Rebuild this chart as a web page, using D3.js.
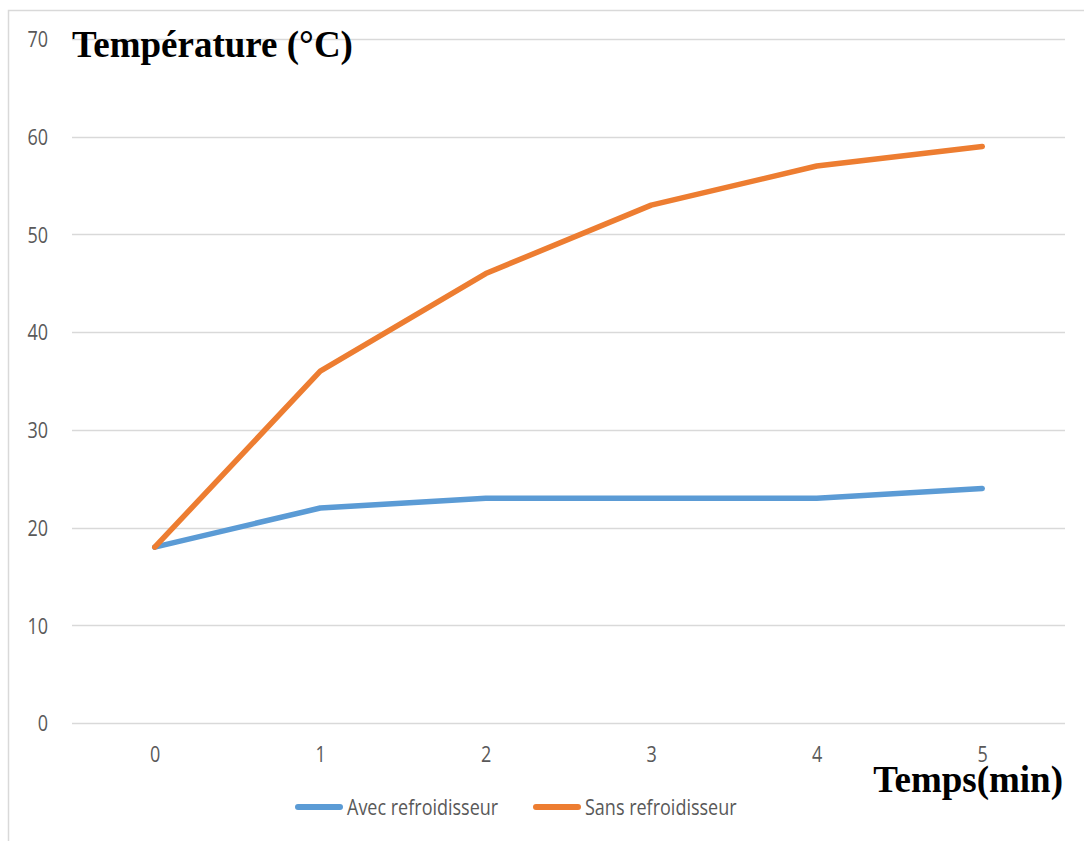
<!DOCTYPE html>
<html>
<head>
<meta charset="utf-8">
<script src="https://cdn.jsdelivr.net/npm/d3@7"></script>
<style>
  body { margin: 0; background: #fff; }
  svg { display: block; }
</style>
</head>
<body>
<div id="plot"></div>
<script>
// data
var temps = [0, 1, 2, 3, 4, 5];
var avecRefroidisseur = [18, 22, 23, 23, 23, 24];
var sansRefroidisseur = [18, 36, 46, 53, 57, 59];
var yTicks = [0, 10, 20, 30, 40, 50, 60, 70];
var seriesNames = ["Avec refroidisseur", "Sans refroidisseur"];
var seriesColors = ["#5B9BD5", "#ED7D31"];

var W = 1084, H = 841;
var margin = { top: 39, right: 19, bottom: 118, left: 72 },
    width = W - margin.left - margin.right,
    height = H - margin.top - margin.bottom;

// the source image is stretched a bit vertically, so the small texts are too
var stretch = 1.2;
var smallFont = "'Open Sans', 'Noto Sans', sans-serif";

var svg = d3.select("#plot").append("svg")
    .attr("width", W)
    .attr("height", H);

// chart border (cropped on right and bottom)
svg.append("path")
    .attr("d", "M8.5," + H + "V10.5H" + W)
    .attr("fill", "none")
    .attr("stroke", "#d9d9d9")
    .attr("stroke-width", 1.5);

var g = svg.append("g")
    .attr("transform", "translate(" + margin.left + "," + margin.top + ")");

var xScale = d3.scalePoint().domain(temps).range([0, width]).padding(0.5);
var yScale = d3.scaleLinear().domain([0, 70]).range([height, 0]);

// gridlines
g.selectAll(".grid")
    .data(yTicks)
    .enter().append("line")
    .attr("class", "grid")
    .attr("x1", 0)
    .attr("x2", width)
    .attr("y1", function(d) { return Math.round(yScale(d)) + 0.5; })
    .attr("y2", function(d) { return Math.round(yScale(d)) + 0.5; })
    .attr("stroke", "#d9d9d9")
    .attr("stroke-width", 1.5);

// y axis labels
var yAxis = g.append("g")
    .call(d3.axisLeft(yScale).tickValues(yTicks).tickSize(0).tickPadding(24));
yAxis.select(".domain").remove();
yAxis.selectAll("text")
    .attr("dy", "0.357em")
    .attr("transform", "scale(1," + stretch + ")")
    .style("font-family", smallFont)
    .style("font-size", "18px")
    .attr("fill", "#595959");

// x axis labels
var xAxis = g.append("g")
    .attr("transform", "translate(0," + height + ")")
    .call(d3.axisBottom(xScale).tickSize(0));
xAxis.select(".domain").remove();
xAxis.selectAll("text")
    .attr("y", 39 / stretch)
    .attr("dy", 0)
    .attr("transform", "scale(1," + stretch + ")")
    .style("font-family", smallFont)
    .style("font-size", "18px")
    .attr("fill", "#595959");

// lines
var line = d3.line()
    .x(function(d, i) { return xScale(temps[i]); })
    .y(function(d) { return yScale(d); });

[avecRefroidisseur, sansRefroidisseur].forEach(function(s, i) {
    g.append("path")
        .datum(s)
        .attr("fill", "none")
        .attr("stroke", seriesColors[i])
        .attr("stroke-width", 5.5)
        .attr("stroke-linecap", "round")
        .attr("stroke-linejoin", "round")
        .attr("d", line);
});

// axis titles
svg.append("text")
    .attr("x", 72)
    .attr("y", 57)
    .style("font-family", "'Liberation Serif', 'DejaVu Serif', serif")
    .style("font-weight", "bold")
    .style("font-size", "37px")
    .attr("fill", "#000")
    .text("Température (°C)");

svg.append("text")
    .attr("x", 1063)
    .attr("y", 792)
    .attr("text-anchor", "end")
    .style("font-family", "'Liberation Serif', 'DejaVu Serif', serif")
    .style("font-weight", "bold")
    .style("font-size", "37px")
    .attr("fill", "#000")
    .text("Temps(min)");

// legend
var legendX = [295, 533];
var legend = svg.selectAll(".legend")
    .data(seriesNames)
    .enter().append("g")
    .attr("class", "legend")
    .attr("transform", function(d, i) { return "translate(" + legendX[i] + ",807)"; });

legend.append("line")
    .attr("x1", 3).attr("x2", 45)
    .attr("stroke", function(d, i) { return seriesColors[i]; })
    .attr("stroke-width", 6)
    .attr("stroke-linecap", "round");

legend.append("text")
    .attr("transform", "translate(52,8) scale(1," + stretch + ")")
    .style("font-family", smallFont)
    .style("font-size", "18px")
    .attr("fill", "#595959")
    .text(function(d) { return d; });
</script>
</body>
</html>
